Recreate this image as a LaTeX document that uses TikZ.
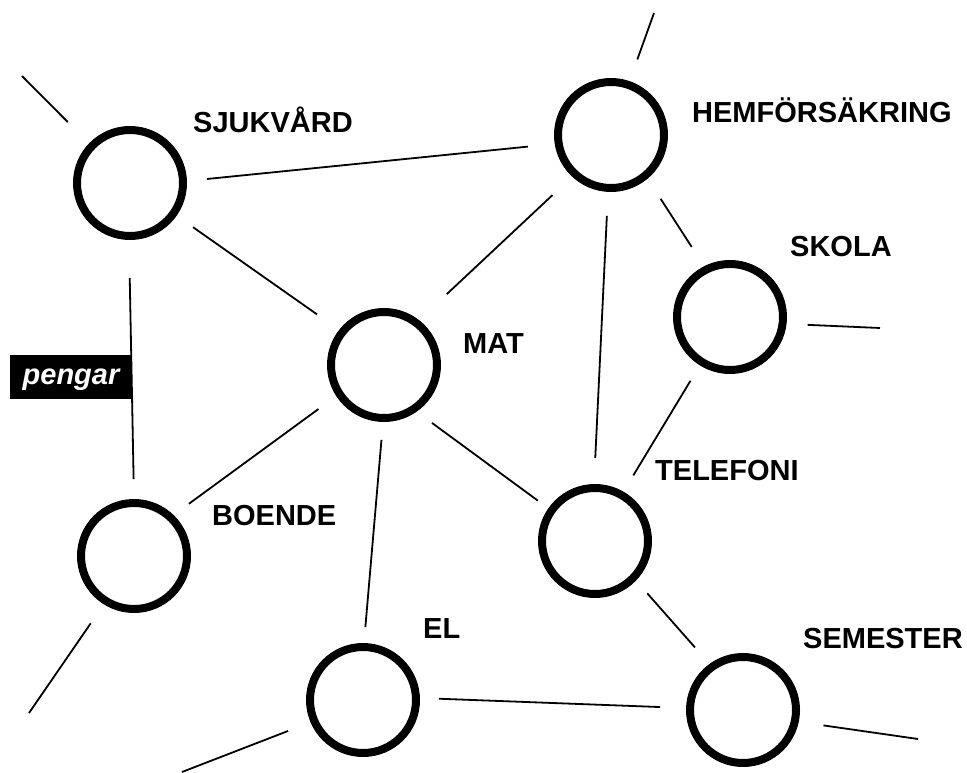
\documentclass[tikz,border=0pt]{standalone}
\usepackage{fontspec}
\setmainfont{Liberation Sans}

\begin{document}
\begin{tikzpicture}
[x=1pt,y=-1pt,
bubble/.style ={circle, draw=black, line width=8pt, fill=white,
minimum size=106pt, inner sep=0pt},
tag/.style ={anchor=base west, inner sep=0pt,
font=\bfseries\fontsize{29}{34}\selectfont},
flag/.style ={fill=black, text=white, inner sep=0pt,
minimum width=122pt, minimum height=44pt,
text height=20pt, text depth=6pt,
font=\bfseries\itshape\fontsize{29}{34}\selectfont},
link/.style ={draw, line width=1.8pt}]
\useasboundingbox (0,0) rectangle (967,773);
% circles
\node [bubble] (sjuk)  at (130,183) {};
\node [bubble] (hemf)  at (611,135) {};
\node [bubble] (skola) at (730,317) {};
\node [bubble] (mat)   at (384,365) {};
\node [bubble] (boende) at (134,556) {};
\node [bubble] (tele)  at (595,541) {};
\node [bubble] (el)    at (363,700) {};
\node [bubble] (sem)   at (743,710) {};
% labels
\node [tag] (sjuklbl)  at (193,133) {SJUKVÅRD};
\node [tag] (hemflbl)  at (692,123) {HEMFÖRSÄKRING};
\node [tag] (skolalbl) at (790,256) {SKOLA};
\node [tag] (matlbl)   at (463,353) {MAT};
\node [tag] (telelbl)  at (655,480) {TELEFONI};
\node [tag] (boendelbl) at (212,525) {BOENDE};
\node [tag] (ellbl)    at (423,638) {EL};
\node [tag] (semlbl)   at (803,648) {SEMESTER};
% loose ends
\coordinate (sjukend)  at (22,76);
\coordinate (hemfend)  at (654,13);
\coordinate (skolaend) at (880,328);
\coordinate (boendeend) at (29,713);
\coordinate (elend)    at (182,772);
\coordinate (semend)   at (918,739);
\begin{scope}[every path/.style=link]
\path [shorten <=20pt, shorten >=27pt] (sjuk.2) -- (hemf.189);
\path [shorten <=20pt, shorten >=27pt] (sjuk.-35) -- (mat.142);
\path [shorten <=38pt, shorten >=20pt] (sjuk.-91) -- (boende.90);
\path [shorten <=27pt, shorten >=38pt] (hemf.-133) -- (mat.52);
\path [shorten <=24pt, shorten >=23pt] (hemf.-50) -- (skola.117);
\path [shorten <=24pt, shorten >=26pt] (hemf.-93) -- (tele.91);
\path [shorten <=18pt, shorten >=19pt] (skola.-122) -- (tele.60);
\path [shorten <=22pt, shorten >=19pt] (mat.-147) -- (boende.46);
\path [shorten <=18pt, shorten >=16pt] (mat.-91) -- (el.89);
\path [shorten <=19pt, shorten >=13pt] (mat.-55) -- (tele.145);
\path [shorten <=17pt, shorten >=22pt] (tele.-44) -- (sem.126);
\path [shorten <=19pt, shorten >=26pt] (el.2) -- (sem.178);
\path [shorten <=30pt] (sjuk.136) -- (sjukend);
\path [shorten <=23pt] (hemf.71) -- (hemfend);
\path [shorten <=21pt] (skola.-7) -- (skolaend);
\path [shorten <=23pt] (boende.-122) -- (boendeend);
\path [shorten <=24pt] (el.-157) -- (elend);
\path [shorten <=25pt] (sem.-12) -- (semend);
\end{scope}
\node [flag] (pengar) at (71,377) {pengar};
\end{tikzpicture}
\end{document}
